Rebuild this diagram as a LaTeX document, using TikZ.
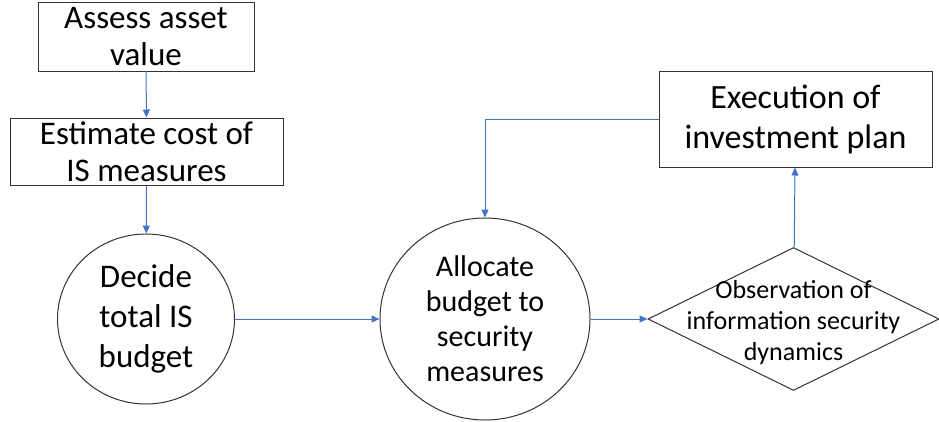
\documentclass[tikz,border=0pt]{standalone}
\usepackage{fontspec}
\setmainfont{Carlito}
\usetikzlibrary{positioning, arrows.meta, shapes.geometric}
\definecolor{flowblue}{RGB}{68,114,196}

\begin{document}
\begin{tikzpicture}[
        x=1pt, y=-1pt,
        >={Triangle[width=7pt,length=8pt]},
        flow/.style={->, draw=flowblue, line width=1pt},
        stepbox/.style={draw=black!80, line width=1pt, align=center, inner sep=0pt},
        stepcircle/.style={ellipse, draw=black!80, line width=1pt, align=center, inner sep=0pt},
        decision/.style={diamond, draw=black!80, line width=1pt, inner sep=0pt},
    ]
        \useasboundingbox (0,0) rectangle (939,421);

        % Draw the boxes on the left
        \node[stepbox, minimum width=216, minimum height=69,
              font=\fontsize{33pt}{37pt}\selectfont] (assess) at (146,36.5) {Assess asset\\value};
        \node[stepbox, minimum width=273, minimum height=67,
              font=\fontsize{33pt}{37pt}\selectfont] (estimate) at (146.5,151.5) {Estimate cost of\\IS measures};

        % Draw the circles
        \node[stepcircle, minimum width=177, minimum height=170,
              font=\fontsize{33pt}{40pt}\selectfont] (decide) at (146,319) {Decide\\total IS\\budget};
        \node[stepcircle, minimum width=210, minimum height=202,
              font=\fontsize{30pt}{35pt}\selectfont] (allocate) at (485,319) {Allocate\\budget to\\security\\measures};

        % Draw the decision and the execution box
        \node[decision, minimum width=291, minimum height=143,
              label={[font=\fontsize{26pt}{31pt}\selectfont, align=center, yshift=-4pt]center:{Observation of\\information security\\dynamics}}] (observe) at (793.5,319) {};
        \node[stepbox, minimum width=273, minimum height=96,
              font=\fontsize{34pt}{40pt}\selectfont] (execute) at (795.5,119) {Execution of\\investment plan};

        % Connect the steps
        \draw[flow] (assess) -- (estimate);
        \draw[flow] (estimate) -- (decide);
        \draw[flow] (decide) -- (allocate);
        \draw[flow] (allocate) -- (observe);
        \draw[flow] (observe) -- (execute);
        \draw[flow] (execute.west) -| (allocate.north);
\end{tikzpicture}
\end{document}
